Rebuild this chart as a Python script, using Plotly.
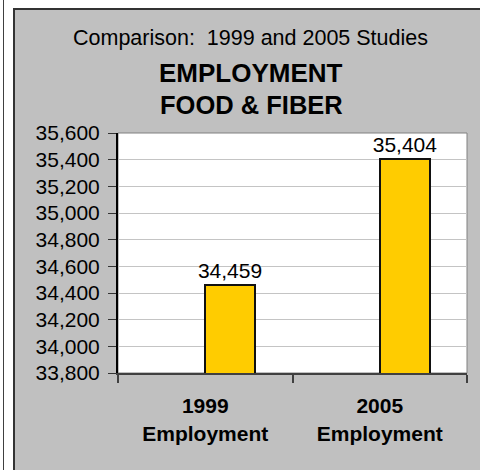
import plotly.graph_objects as go

# ---- data ----
years = ["1999", "2005"]
category_labels = ["1999<br>Employment", "2005<br>Employment"]
employment = [34459, 35404]
y_ticks_min = 33800
y_ticks_max = 35600
y_tick_step = 200

title_top = "Comparison:  1999 and 2005 Studies"
title_main = "EMPLOYMENT"
title_sub = "FOOD & FIBER"

FONT = "Liberation Sans, Arial, sans-serif"

# plot-area pixel geometry (480x470 page)
W, H = 480, 470
L, R, T, B = 118, 13, 133, 97
PW, PH = W - L - R, H - T - B


def px_x(px):
    return (px - L) / PW


def px_y(py):
    return (H - B - py) / PH


fig = go.Figure()
fig.add_trace(go.Bar(
    x=category_labels,
    y=employment,
    offset=0,
    width=50 / (PW / 2),
    marker=dict(color="#FFCC00", line=dict(color="#111111", width=2)),
    text=employment,
    texttemplate="%{y:,}",
    textposition="outside",
    constraintext="none",
    cliponaxis=False,
    textfont=dict(family=FONT, size=21, color="black"),
    hoverinfo="skip",
))

shapes = [
    # neighbouring panel edge
    dict(type="line", xref="paper", yref="paper",
         x0=px_x(3.5), x1=px_x(3.5), y0=px_y(-20), y1=px_y(500),
         line=dict(color="#404040", width=1), layer="below"),
    # grey chart panel
    dict(type="rect", xref="paper", yref="paper",
         x0=px_x(14), x1=px_x(494), y0=px_y(495), y1=px_y(9),
         fillcolor="#C0C0C0", line=dict(color="#333333", width=2), layer="below"),
    # white plot area
    dict(type="rect", xref="paper", yref="paper",
         x0=0, x1=1, y0=0, y1=1,
         fillcolor="white", line=dict(color="#808080", width=1), layer="below"),
]

annotations = [
    dict(text=title_top, xref="paper", yref="paper", x=px_x(250), y=px_y(37.5),
         xanchor="center", yanchor="middle", showarrow=False,
         font=dict(family=FONT, size=21.5, color="black")),
    dict(text=title_main, xref="paper", yref="paper", x=px_x(250.5), y=px_y(73),
         xanchor="center", yanchor="middle", showarrow=False,
         font=dict(family=FONT, size=26, color="black", weight="bold")),
    dict(text=title_sub, xref="paper", yref="paper", x=px_x(251), y=px_y(105),
         xanchor="center", yanchor="middle", showarrow=False,
         font=dict(family=FONT, size=25.5, color="black", weight="bold")),
]

fig.update_layout(
    width=W, height=H,
    margin=dict(l=L, r=R, t=T, b=B, pad=0),
    paper_bgcolor="white",
    plot_bgcolor="white",
    showlegend=False,
    shapes=shapes,
    annotations=annotations,
    bargap=0,
)

fig.update_xaxes(
    type="category",
    range=[-0.5, 1.5],
    showline=True, linecolor="#404040", linewidth=2,
    ticks="outside", tickson="boundaries", ticklen=8, tickwidth=2, tickcolor="#404040",
    ticklabelstandoff=13,
    showgrid=False,
    tickfont=dict(family=FONT, size=21, color="black", weight="bold"),
)

fig.update_yaxes(
    range=[y_ticks_min, y_ticks_max],
    tick0=y_ticks_min, dtick=y_tick_step,
    tickformat=",d",
    showline=True, linecolor="black", linewidth=2,
    ticks="outside", ticklen=8, tickwidth=1, tickcolor="#333333",
    ticklabelstandoff=4,
    showgrid=True, gridcolor="#C4C4C4", gridwidth=1,
    zeroline=False,
    tickfont=dict(family=FONT, size=21, color="black"),
)

fig.write_html("out.html")
